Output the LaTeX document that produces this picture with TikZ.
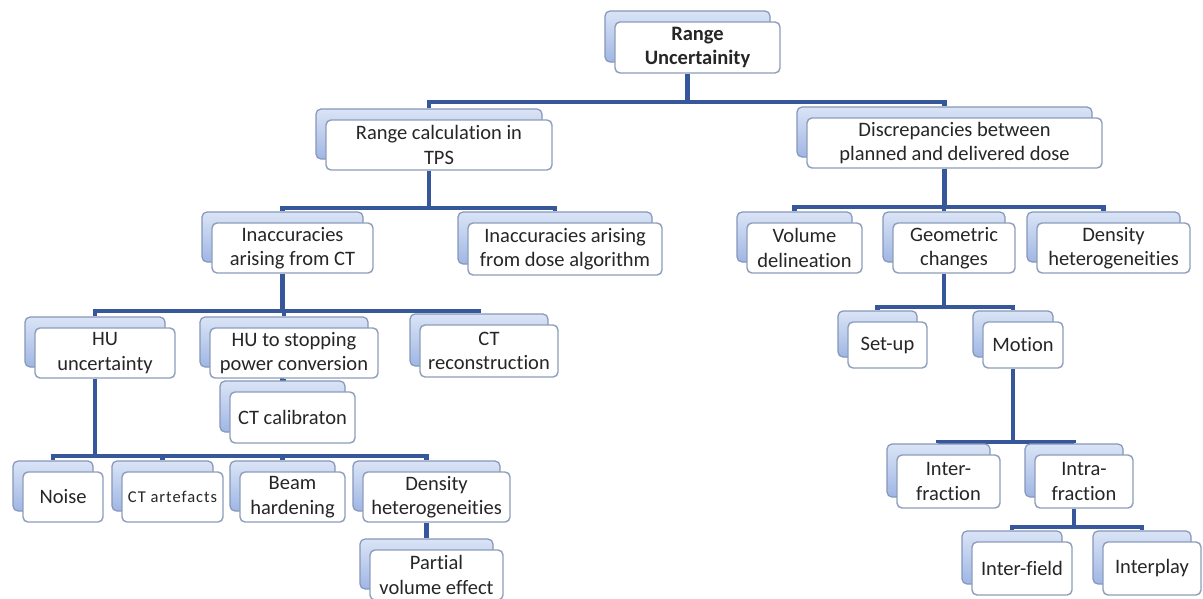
\documentclass[tikz,border=0pt]{standalone}
\usepackage{fontspec}
\setmainfont{Carlito}[Ligatures=NoCommon]
\usetikzlibrary{backgrounds}

\definecolor{linkblue}{HTML}{36579A}
\definecolor{edgegrey}{HTML}{8E9DBB}
\definecolor{backtop}{HTML}{DAE4F6}
\definecolor{backbot}{HTML}{9FB6E4}
\definecolor{backedge}{HTML}{8796BA}
\definecolor{inkgrey}{HTML}{262626}

\tikzset{
  frontbox/.style={draw=edgegrey, line width=1.4pt, fill=white, rounded corners=5pt,
    inner sep=0pt, align=center, text=inkgrey, font=\fontsize{20.5}{24.5}\selectfont},
  backbox/.style={draw=backedge, line width=1.2pt, top color=backtop, bottom color=backbot,
    rounded corners=5pt, inner sep=0pt},
  conn/.style={draw=linkblue, line width=4.5pt},
}

% a white box (#1) spanning x #2..#4, y #3..#5, with its blue copy (#1b) behind it
\newcommand\treebox[6]{%
  \pgfmathsetmacro\bw{#4-#2}\pgfmathsetmacro\bh{#5-#3}%
  \pgfmathsetmacro\bx{(#2+#4)/2}\pgfmathsetmacro\by{(#3+#5)/2}%
  \node[backbox, minimum width=\bw pt, minimum height=\bh pt] (#1b) at (\bx-10,\by-11) {};
  \node[frontbox, minimum width=\bw pt, minimum height=\bh pt] (#1) at (\bx,\by) {#6};
}

% elbow connectors from parent #1 via a bar at height #2 to each child in #3
\newcommand\branch[3]{%
  \foreach \kid in {#3}{\draw[conn] (#1b |- #1.south) -- (#1b |- 0,#2) -| (\kid b.north);}%
}

\begin{document}
\begin{tikzpicture}[x=1pt, y=-1pt]
  \useasboundingbox (0,0) rectangle (1203,598);
  \clip (0,0) rectangle (1203,598);

  \treebox{root}{615}{22}{780}{73}{\textbf{Range}\\\textbf{Uncertainity}}

  \treebox{rc}{326}{120}{552}{170}{Range calculation in\\TPS}
  \treebox{disc}{807}{118}{1102}{168}{Discrepancies between\\planned and delivered dose}

  \treebox{ict}{212}{223}{373}{273}{Inaccuracies\\arising from CT}
  \treebox{ida}{468}{223}{662}{275}{Inaccuracies arising\\from dose algorithm}
  \treebox{vol}{747}{223}{862}{273}{Volume\\delineation}
  \treebox{geo}{893}{223}{1015}{273}{Geometric\\changes}
  \treebox{dhr}{1037}{223}{1190}{273}{Density\\heterogeneities}

  \treebox{hu}{35}{328}{175}{378}{HU\\uncertainty}
  \treebox{hus}{210}{328}{378}{378}{HU to stopping\\power conversion}
  \treebox{ctr}{420}{325}{558}{377}{CT\\reconstruction}
  \treebox{ctc}{230}{392}{355}{443}{CT calibraton}
  \treebox{setup}{848}{322}{927}{368}{Set-up}
  \treebox{motion}{983}{322}{1063}{368}{Motion}

  \treebox{noise}{23}{472}{103}{522}{Noise}
  \treebox{cta}{122}{472}{223}{522}{\fontsize{16.5}{20}\selectfont\addfontfeature{LetterSpace=6}CT artefacts}
  \treebox{beam}{240}{472}{345}{522}{Beam\\hardening}
  \treebox{dhl}{363}{472}{510}{522}{Density\\heterogeneities}
  \treebox{pve}{370}{550}{503}{600}{Partial\\volume effect}

  \treebox{inter}{897}{455}{1000}{508}{Inter-\\fraction}
  \treebox{intra}{1035}{455}{1133}{508}{Intra-\\fraction}
  \treebox{ifield}{972}{542}{1072}{595}{Inter-field}
  \treebox{iplay}{1103}{542}{1201}{595}{Interplay}

  \begin{scope}[on background layer]
    \fill[white] (0,0) rectangle (1203,598);
    \branch{root}{102}{rc,disc}
    \branch{rc}{208}{ict,ida}
    \branch{disc}{207}{vol,geo,dhr}
    \branch{ict}{311}{hu,hus,ctr}
    \branch{hus}{380}{ctc}
    \branch{geo}{307}{setup,motion}
    \branch{motion}{442}{inter,intra}
    \branch{intra}{527}{ifield,iplay}
    \branch{hu}{456}{noise,cta,beam,dhl}
    \branch{dhl}{530}{pve}
  \end{scope}
\end{tikzpicture}
\end{document}
